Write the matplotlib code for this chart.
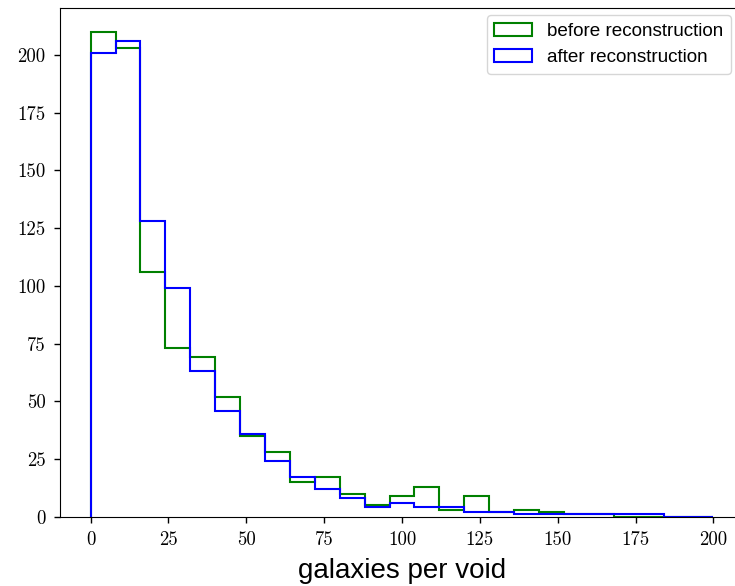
import matplotlib
matplotlib.use("Agg")
import matplotlib.pyplot as plt
import numpy as np

bin_edges = list(range(0, 201, 8))
before_counts = [210, 203, 106, 73, 69, 52, 35, 28, 15, 17, 10, 5, 9, 13, 3, 9, 2, 3, 2, 1, 1, 0, 0, 0, 0]
after_counts = [201, 206, 128, 99, 63, 46, 36, 24, 17, 12, 8, 4, 6, 4, 4, 2, 2, 1, 1, 1, 1, 1, 1, 0, 0]
series_labels = ["before reconstruction", "after reconstruction"]
xticks = [0, 25, 50, 75, 100, 125, 150, 175, 200]
yticks = [0, 25, 50, 75, 100, 125, 150, 175, 200]
xlabel = "galaxies per void"

W, H = 735, 586
fig = plt.figure(figsize=(W / 100, H / 100), dpi=100)
ax = fig.add_axes([59.5 / W, 69.3 / H, 685.0 / W, 509.0 / H])

centers = np.array(bin_edges[:-1]) + 4
ax.hist(centers, bins=bin_edges, weights=before_counts, histtype="step",
        color="green", lw=1.5, label=series_labels[0])
ax.hist(centers, bins=bin_edges, weights=after_counts, histtype="step",
        color="blue", lw=1.5, label=series_labels[1])

ax.set_xlim(-10, 210)
ax.set_ylim(0, 220.5)
ax.spines["right"].set_visible(False)

ax.set_xticks(xticks)
ax.set_xticklabels([str(t) for t in xticks], fontfamily="cmr10", fontsize=13.5)
ax.set_yticks(yticks)
ax.set_yticklabels([str(t) for t in yticks], fontfamily="cmr10", fontsize=13.5)
ax.tick_params(direction="out", length=4.5, width=1, pad=5.5)

ax.set_xlabel(xlabel, fontfamily="Liberation Sans", fontsize=20, labelpad=7)

leg = ax.legend(loc="upper right", bbox_to_anchor=(731 / W, (H - 15) / H),
                bbox_transform=fig.transFigure, borderaxespad=0,
                prop={"family": "Liberation Sans", "size": 13.6})

fig.savefig("out.png", dpi=100)
